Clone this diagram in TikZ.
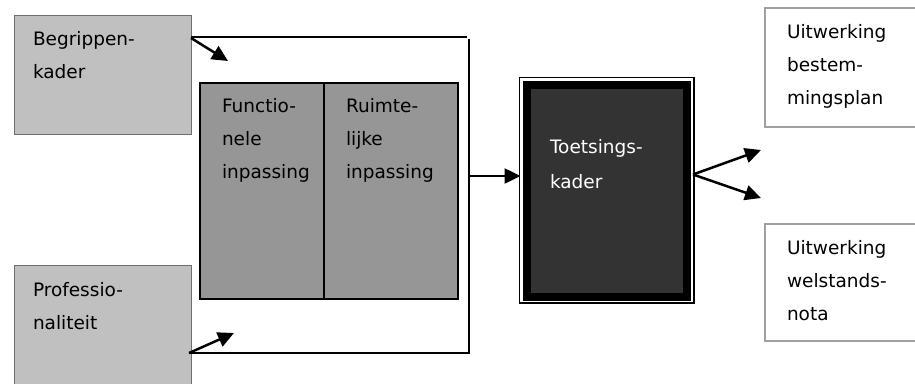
\documentclass[tikz,border=0pt]{standalone}
\usepackage{fontspec}
\setmainfont{DejaVu Sans}
\usetikzlibrary{arrows.meta}
\definecolor{lightbox}{HTML}{C0C0C0}
\definecolor{midbox}{HTML}{969696}
\definecolor{darkbox}{HTML}{333333}
\definecolor{edgegray}{HTML}{6E6E6E}
\definecolor{paleedge}{HTML}{A0A0A0}
\tikzset{
  every node/.style={outer sep=0pt, inner sep=0pt},
  % labels are placed by the baseline of their last line
  lbl/.style={anchor=base west, align=left, font=\fontsize{18.5}{33}\selectfont},
  inbox/.style={draw=edgegray, line width=1pt, fill=lightbox, anchor=north west},
  outbox/.style={draw=paleedge, line width=1.5pt, fill=white, anchor=north west},
  partbox/.style={draw=black, line width=1.3pt, fill=midbox, anchor=north west},
  flow/.style={line width=2.5pt, -{Triangle[length=16pt,width=15pt]}},
  rail/.style={line width=2.5pt},
}
\begin{document}
\begin{tikzpicture}[x=1pt,y=-1pt]
  \useasboundingbox (0,0) rectangle (915,383);

  % input boxes on the left
  \node[inbox, minimum width=177pt, minimum height=119pt] (beg) at (14,15) {};
  \node[lbl] (begt) at (33,78.5) {Begrippen-\\kader};
  \node[inbox, minimum width=177pt, minimum height=130pt] (prof) at (14,265) {};
  \node[lbl] (proft) at (33,329) {Professio-\\naliteit};

  % the two-part central block
  \node[partbox, minimum width=124pt, minimum height=216pt] (fun) at (200,83) {};
  \node[partbox, minimum width=134pt, minimum height=216pt] (ruim) at (324,83) {};
  \node[lbl] (funt) at (222,178) {Functio-\\nele\\inpassing};
  \node[lbl] (ruimt) at (346,178) {Ruimte-\\lijke\\inpassing};

  % assessment framework block with its double frame
  \node[draw=black, line width=8pt, fill=darkbox, anchor=north west,
        minimum width=160.5pt, minimum height=212pt] (toets) at (526.5,85) {};
  \draw[line width=1.5pt] ([shift={(-7,-7.5)}]toets.north west)
        rectangle ([shift={(7,6)}]toets.south east);
  \node[lbl, text=white, font=\fontsize{18.5}{35}\selectfont] (toetst) at (550,188) {Toetsings-\\kader};

  % output boxes on the right
  \node[outbox, minimum width=160pt, minimum height=119pt] (best) at (765,8) {};
  \node[lbl] (bestt) at (787,104) {Uitwerking\\bestem-\\mingsplan};
  \node[outbox, minimum width=160pt, minimum height=117pt] (wel) at (765,224) {};
  \node[lbl] (welt) at (787,320) {Uitwerking\\welstands-\\nota};

  % bracket collecting the inputs
  \coordinate (topL) at (beg.east |- 0,37);
  \coordinate (begOut) at (beg.east |- 0,38);
  \coordinate (topR) at (467,37);
  \coordinate (vTop) at (469,39);
  \coordinate (vBot) at (469,353);
  \coordinate (botL) at (189,353);
  \coordinate (mid) at (468,176);
  \draw[rail] (topL) -- (topR);
  \draw[rail] (vTop) -- (vBot) -- (botL);

  % arrows
  \coordinate (a1) at (228,61);
  \coordinate (a2) at (234,333);
  \coordinate (o1) at (761,150);
  \coordinate (o2) at (761,198);
  \coordinate (tIn) at (toets.west |- mid);
  \coordinate (tOut) at (693,174.5);
  \draw[flow] (begOut) -- (a1);
  \draw[flow] (botL) -- (a2);
  \draw[flow] (mid) -- ([xshift=-6]tIn);
  \draw[flow] (tOut) -- (o1);
  \draw[flow] (tOut) -- (o2);
\end{tikzpicture}
\end{document}
